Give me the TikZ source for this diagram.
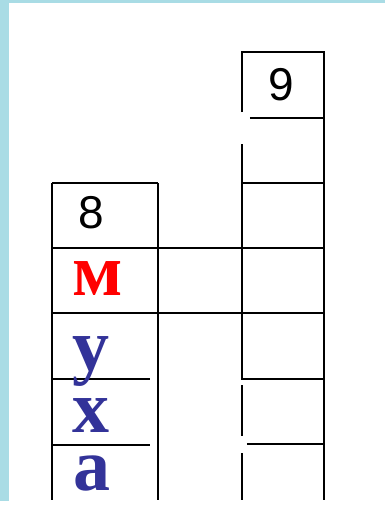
\documentclass[tikz,border=0pt]{standalone}
\usepackage{fontspec}
\setmainfont{Liberation Serif}
\newfontfamily\digitfont{Liberation Sans}
\usetikzlibrary{positioning}
\definecolor{FrameCyan}{HTML}{A9DCE5}
\definecolor{LetterRed}{HTML}{FF0000}
\definecolor{LetterBlue}{HTML}{333399}
\tikzset{
  gridline/.style={line width=1.45pt, draw=black},
  numlabel/.style={inner sep=0pt, font=\digitfont\fontsize{23}{23}\selectfont},
  letter/.style={inner sep=0pt, anchor=base, font=\bfseries\fontsize{37}{37}\selectfont},
}

\begin{document}
\begin{tikzpicture}[x=0.5pt, y=-0.5pt]
    % frame
    \fill[white] (0,0) rectangle (385,505);
    \fill[FrameCyan] (0,0) rectangle (385,3);
    \fill[FrameCyan] (0,0) rectangle (9,501);
    \useasboundingbox (0,0) rectangle (385,505);
    % column 8
    \draw[gridline] (52,183) -- (52,500);
    \draw[gridline] (158,183) -- (158,500);
    \draw[gridline] (52,183) -- (158,183);
    \draw[gridline] (52,379) -- (150,379);
    \draw[gridline] (52,445) -- (150,445);
    % shared rows
    \draw[gridline] (52,248) -- (324,248);
    \draw[gridline] (52,313) -- (324,313);
    % column 9
    \draw[gridline] (242,112) |- (324,52) -- (324,500);
    \draw[gridline] (250,118) -- (324,118);
    \draw[gridline] (242,144) |- (324,379);
    \draw[gridline] (242,385) -- (242,436);
    \draw[gridline] (242,453) -- (242,500);
    \draw[gridline] (242,183) -- (324,183);
    \draw[gridline] (247,444) -- (324,444);
    % numbers
    \node[numlabel] (n8) at (91,213) {8};
    \node[numlabel] (n9) at (281,85) {9};
    % word
    \node[letter, text=LetterRed] (lm) at (98,295) {м};
    \node[letter, text=LetterBlue] (lu) at (91,370) {у};
    \node[letter, text=LetterBlue] (lh) at (91,432) {х};
    \node[letter, text=LetterBlue] (la) at (92,490) {а};
\end{tikzpicture}
\end{document}
